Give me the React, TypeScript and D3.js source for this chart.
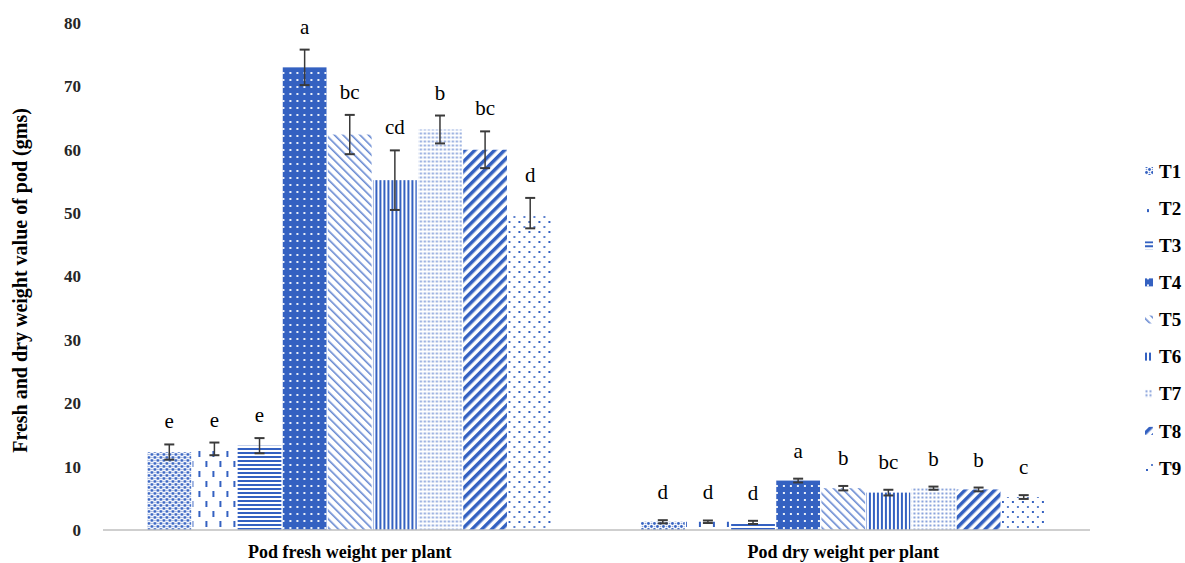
import React from 'react';
import * as d3 from 'd3';

const categories = ['Pod fresh weight per plant', 'Pod dry weight per plant'];
const treatments = ['T1', 'T2', 'T3', 'T4', 'T5', 'T6', 'T7', 'T8', 'T9'];
// means per treatment, one array per category
const freshValues = [12.3, 12.8, 13.3, 73.0, 62.4, 55.2, 63.2, 60.0, 50.0];
const dryValues = [1.3, 1.3, 1.2, 7.8, 6.6, 5.9, 6.6, 6.4, 5.2];
const freshErrors = [1.2, 1.0, 1.2, 2.8, 3.1, 4.7, 2.2, 2.9, 2.4];
const dryErrors = [0.25, 0.2, 0.25, 0.3, 0.35, 0.45, 0.25, 0.3, 0.3];
const freshLetters = ['e', 'e', 'e', 'a', 'bc', 'cd', 'b', 'bc', 'd'];
const dryLetters = ['d', 'd', 'd', 'a', 'b', 'bc', 'b', 'b', 'c'];
const yTicks = [0, 10, 20, 30, 40, 50, 60, 70, 80];

const BLUE = '#3461c1';
const SERIF = "'Times New Roman', Times, 'Liberation Serif', 'DejaVu Serif', 'Noto Serif', serif";

function Patterns() {
  return (
    <defs>
      {/* T1 weave */}
      <pattern id="p-T1" width="6" height="6" patternUnits="userSpaceOnUse">
        <rect width="6" height="6" fill="#fff" />
        <circle cx="1.5" cy="1.5" r="1.4" fill={BLUE} />
        <circle cx="4.5" cy="4.5" r="1.4" fill={BLUE} />
        <circle cx="4.5" cy="1.5" r="0.8" fill={BLUE} opacity="0.6" />
        <circle cx="1.5" cy="4.5" r="0.8" fill={BLUE} opacity="0.6" />
      </pattern>
      {/* T2 dashed vertical */}
      <pattern id="p-T2" width="14" height="20" patternUnits="userSpaceOnUse">
        <rect width="14" height="20" fill="#fff" />
        <rect x="2" y="1" width="2" height="6" fill={BLUE} />
        <rect x="9" y="11" width="2" height="6" fill={BLUE} />
      </pattern>
      {/* T3 horizontal lines */}
      <pattern id="p-T3" width="8" height="4" patternUnits="userSpaceOnUse">
        <rect width="8" height="4" fill="#fff" />
        <rect y="0" width="8" height="2" fill={BLUE} />
      </pattern>
      {/* T4 solid with white dots */}
      <pattern id="p-T4" width="7" height="7" patternUnits="userSpaceOnUse">
        <rect width="7" height="7" fill={BLUE} />
        <rect x="2" y="2" width="2" height="2" fill="#fff" opacity="0.9" />
      </pattern>
      {/* T5 thin diagonal \ */}
      <pattern id="p-T5" width="6" height="6" patternUnits="userSpaceOnUse" patternTransform="rotate(-45)">
        <rect width="6" height="6" fill="#fff" />
        <rect x="0" width="1.6" height="6" fill={BLUE} opacity="0.75" />
      </pattern>
      {/* T6 vertical lines */}
      <pattern id="p-T6" width="4" height="8" patternUnits="userSpaceOnUse">
        <rect width="4" height="8" fill="#fff" />
        <rect x="0" width="2" height="8" fill={BLUE} />
      </pattern>
      {/* T7 fine dots */}
      <pattern id="p-T7" width="4" height="4" patternUnits="userSpaceOnUse">
        <rect width="4" height="4" fill="#fff" />
        <rect x="0.5" y="0.5" width="2" height="2" fill={BLUE} opacity="0.6" />
      </pattern>
      {/* T8 thick diagonal / */}
      <pattern id="p-T8" width="7" height="7" patternUnits="userSpaceOnUse" patternTransform="rotate(45)">
        <rect width="7" height="7" fill="#fff" />
        <rect x="0" width="3.5" height="7" fill={BLUE} />
      </pattern>
      {/* T9 sparse dots */}
      <pattern id="p-T9" width="10" height="10" patternUnits="userSpaceOnUse">
        <rect width="10" height="10" fill="#fff" />
        <rect x="1" y="1" width="2" height="2" fill={BLUE} />
        <rect x="6" y="6" width="2" height="2" fill={BLUE} opacity="0.8" />
      </pattern>
    </defs>
  );
}

export default function App() {
  const width = 1185;
  const height = 563;

  const y = d3.scaleLinear().domain([0, 80]).range([530, 23]);
  const x0 = d3.scaleBand().domain(categories).range([103, 1090]).paddingInner(0.18).paddingOuter(0.09);
  const x1 = d3.scaleBand().domain(treatments).range([0, x0.bandwidth()]).paddingInner(0.03);

  const groups = [
    { cat: categories[0], values: freshValues, errors: freshErrors, letters: freshLetters, gap: 16 },
    { cat: categories[1], values: dryValues, errors: dryErrors, letters: dryLetters, gap: 21 },
  ];

  const legendY = d3.scalePoint().domain(treatments).range([171, 468]);

  return (
    <svg width={width} height={height} style={{ position: 'absolute', left: 0, top: 0, background: '#fff', fontFamily: SERIF }}>
      <Patterns />
      {/* y tick labels */}
      {yTicks.map((t) => (
        <text key={t} x={81} y={y(t)} dy="0.35em" textAnchor="end" fontWeight="bold" fontSize={17} fill="#262626">
          {t}
        </text>
      ))}
      <text
        transform={`translate(20,${(y(0) + y(80)) / 2 + 4}) rotate(-90)`}
        textAnchor="middle"
        dy="0.35em"
        fontWeight="bold"
        fontSize={20}
        fill="#000"
      >
        Fresh and dry weight value of pod (gms)
      </text>

      {groups.map((g) => {
        const gx = x0(g.cat) as number;
        return (
          <g key={g.cat} transform={`translate(${gx},0)`}>
            {treatments.map((t, i) => {
              const bx = x1(t) as number;
              const bw = x1.bandwidth();
              const cx = bx + bw / 2;
              const top = y(g.values[i] + g.errors[i]);
              const bot = y(g.values[i] - g.errors[i]);
              return (
                <g key={t}>
                  <rect x={bx} y={y(g.values[i])} width={bw} height={y(0) - y(g.values[i])} fill={`url(#p-${t})`} />
                  <line x1={cx} x2={cx} y1={top} y2={bot} stroke="#3a3a3a" strokeWidth={1.5} />
                  <line x1={cx - 5} x2={cx + 5} y1={top} y2={top} stroke="#3a3a3a" strokeWidth={2} />
                  <line x1={cx - 5} x2={cx + 5} y1={bot} y2={bot} stroke="#3a3a3a" strokeWidth={2} />
                  <text x={cx} y={top - g.gap} textAnchor="middle" fontSize={21} fill="#000">
                    {g.letters[i]}
                  </text>
                </g>
              );
            })}
            <text x={x0.bandwidth() / 2} y={558} textAnchor="middle" fontWeight="bold" fontSize={18} fill="#000">
              {g.cat}
            </text>
          </g>
        );
      })}

      <line x1={103} x2={1090} y1={y(0)} y2={y(0)} stroke="#bfbfbf" strokeWidth={1.5} />

      {/* legend */}
      {treatments.map((t) => (
        <g key={t} transform={`translate(1145,${legendY(t)})`}>
          <rect x={0} y={-4} width={8} height={8} fill={`url(#p-${t})`} />
          <text x={14} y={0} dy="0.35em" fontWeight="bold" fontSize={19} fill="#000">
            {t}
          </text>
        </g>
      ))}
    </svg>
  );
}
